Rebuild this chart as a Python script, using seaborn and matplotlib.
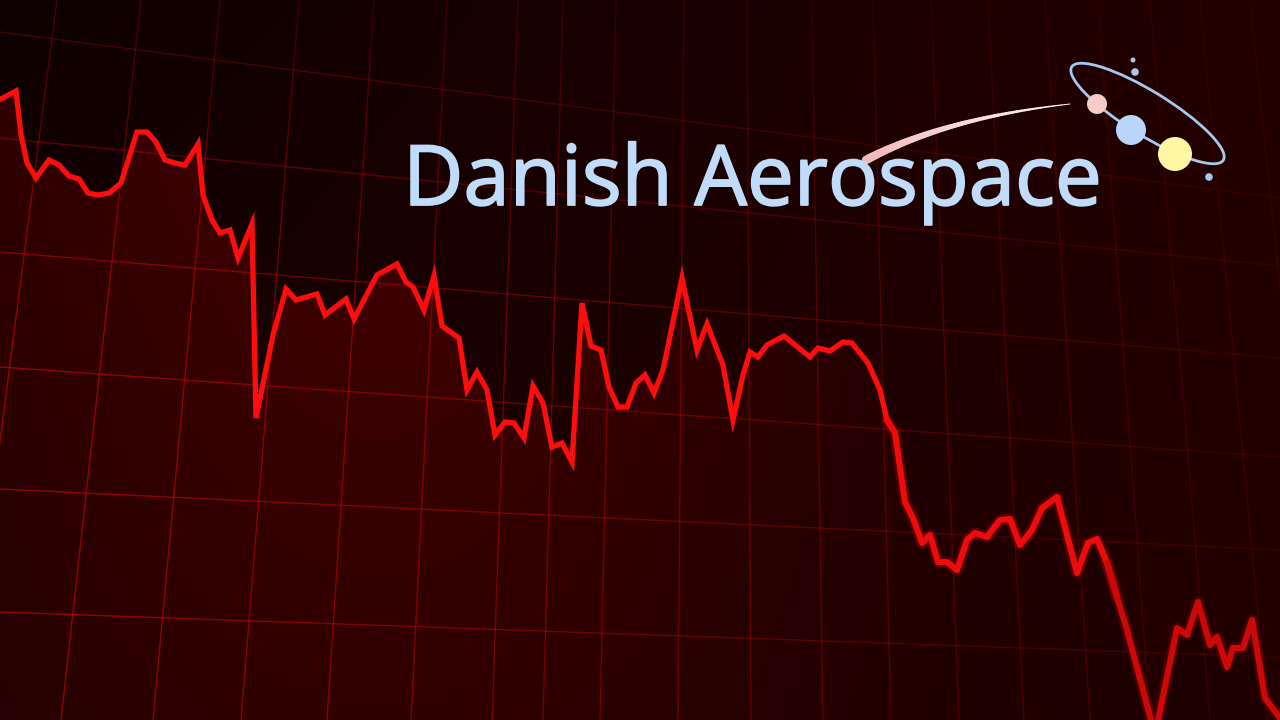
import numpy as np
import pandas as pd
import matplotlib
matplotlib.use("Agg")
import matplotlib.pyplot as plt
import matplotlib.patheffects as pe
import seaborn as sns
from matplotlib.collections import LineCollection
from matplotlib.patches import Ellipse, Circle

# ---------------- data ----------------
time_x = [-5, 16, 21, 27, 36, 49, 59, 69, 79, 88, 98, 109, 121, 137, 147, 156, 165, 175, 185, 198,
          203, 212, 220, 230, 238, 252, 256, 273, 286, 296, 317, 325, 346, 354, 377, 397, 406, 413,
          424, 434, 442, 459, 467, 477, 487, 495, 505, 514, 524, 533, 543, 552, 562, 572, 582, 591,
          601, 609, 618, 627, 636, 645, 654, 663, 682, 690, 697, 707, 716, 723, 733, 743, 750, 758,
          767, 784, 800, 810, 818, 830, 843, 852, 868, 880, 887, 895, 905, 913, 922, 930, 938, 947,
          957, 967, 975, 987, 1000, 1010, 1020, 1032, 1042, 1057, 1077, 1088, 1097, 1107, 1117,
          1127, 1155, 1177, 1187, 1198, 1210, 1217, 1227, 1233, 1243, 1252, 1265, 1285]
price = [618, 629, 585, 557, 542, 560, 555, 544, 541, 527, 525, 527, 537, 588, 588, 578, 560, 557,
         555, 576, 525, 500, 487, 490, 462, 496, 302, 385, 431, 420, 426, 405, 421, 401, 445, 456,
         438, 433, 410, 444, 394, 382, 330, 348, 330, 285, 298, 297, 282, 334, 317, 273, 277, 258,
         417, 374, 370, 333, 313, 313, 337, 345, 327, 350, 442, 403, 370, 396, 373, 355, 300, 345,
         368, 363, 375, 384, 371, 363, 372, 369, 378, 377, 357, 330, 300, 287, 218, 202, 177, 185,
         158, 158, 150, 180, 187, 183, 200, 201, 175, 190, 212, 223, 147, 177, 181, 157, 123, 90,
         -15, 92, 85, 118, 75, 83, 53, 72, 72, 100, 22, -5]
brand_name = "Danish Aerospace"

# ---------------- layout / decoration ----------------
W, H = 1280, 720
grid_top_x = [57, 141, 220, 299, 374, 447, 518, 563, 616, 684, 747, 812, 873, 931, 988, 1045, 1098, 1150, 1200, 1250]
grid_bot_x = [-36, 61, 153, 241, 327, 411, 492, 543, 600, 678, 751, 823, 891, 959, 1024, 1090, 1150, 1210, 1268, 1325]
grid_left_y = [32, 138, 252, 367, 489, 612]
grid_right_y = [198, 266, 358, 457, 550, 657]

sns.set_theme(style="dark")
plt.rcParams['font.family'] = ['Open Sans', 'DejaVu Sans']

fig = plt.figure(figsize=(12.8, 7.2), dpi=100)
ax = fig.add_axes([0, 0, 1, 1])
ax.set_xlim(0, W)
ax.set_ylim(0, H)
ax.set_axis_off()

# background gradient
nx, ny = 320, 180
xn, yn = np.meshgrid(np.linspace(0, 1, nx), np.linspace(0, 1, ny))  # yn: 0 top, 1 bottom
bg_r = 0.055 + 0.085 * xn + 0.05 * yn * (1 - xn)
bg = np.dstack([bg_r, np.zeros_like(bg_r), np.zeros_like(bg_r)]).clip(0, 1)
ax.imshow(bg, extent=[0, W, 0, H], origin="upper", aspect="auto", zorder=0, interpolation="bilinear")

# area under the line with glow gradient
px = xn * W
fill_r = 0.12 + 0.15 * np.exp(-((px - 380) / 430) ** 2) * (1 - 0.55 * yn)
fill_img = np.dstack([fill_r, np.zeros_like(fill_r), np.zeros_like(fill_r)]).clip(0, 1)
poly = ax.fill_between(time_x, price, -60, color="none", lw=0)
im = ax.imshow(fill_img, extent=[0, W, 0, H], origin="upper", aspect="auto", zorder=1,
               interpolation="bilinear")
im.set_clip_path(poly.get_paths()[0], transform=ax.transData)


def faded_line(p0, p1, n=40, base=0.6, lw=1.0):
    xs = np.linspace(p0[0], p1[0], n + 1)
    ys = np.linspace(p0[1], p1[1], n + 1)  # pixel y (top=0)
    segs, cols = [], []
    for i in range(n):
        mx = (xs[i] + xs[i + 1]) / 2
        my = (ys[i] + ys[i + 1]) / 2
        fx = np.clip(1 - 0.8 * (mx / W), 0.12, 1)
        fy = 0.4 + 0.6 * min(1.0, max(my, 0) / 320)
        segs.append([(xs[i], H - ys[i]), (xs[i + 1], H - ys[i + 1])])
        cols.append((0.88, 0.02, 0.02, base * fx * fy))
    ax.add_collection(LineCollection(segs, colors=cols, linewidths=lw, zorder=2, capstyle="butt"))


for xt, xb in zip(grid_top_x, grid_bot_x):
    faded_line((xt, 0), (xb, H))
for yl, yr in zip(grid_left_y, grid_right_y):
    faded_line((0, yl), (W, yr))

# ---------------- the price line ----------------
df = pd.DataFrame({"t": time_x, "price": price})
left = df[df["t"] <= 895]
mid = df[(df["t"] >= 887) & (df["t"] <= 1117)]
far = df[df["t"] >= 1107]

sns.lineplot(data=left, x="t", y="price", estimator=None, sort=False, color="#ff0d0d",
             lw=3.8, ax=ax, zorder=5, solid_joinstyle="miter")
for part, c_core, c_glow in [(mid, "#ee0b0b", "#e00808"), (far, "#cc0808", "#b80606")]:
    sns.lineplot(data=part, x="t", y="price", estimator=None, sort=False, color=c_glow,
                 lw=8, alpha=0.25, ax=ax, zorder=4)
    sns.lineplot(data=part, x="t", y="price", estimator=None, sort=False, color=c_core,
                 lw=4.4, ax=ax, zorder=5)

# ---------------- logo ----------------
# comet swoosh (quadratic curve tapering to the right)
p0, p1, p2 = np.array([866, 160.0]), np.array([945, 118.0]), np.array([1070, 104.0])
ts = np.linspace(0, 1, 60)
curve = ((1 - ts)[:, None] ** 2) * p0 + (2 * (1 - ts) * ts)[:, None] * p1 + (ts[:, None] ** 2) * p2
segs, cols, lws = [], [], []
c0 = np.array([0.94, 0.72, 0.72])
c1 = np.array([1.0, 0.97, 0.97])
for i in range(len(ts) - 1):
    t = ts[i]
    segs.append([(curve[i, 0], H - curve[i, 1]), (curve[i + 1, 0], H - curve[i + 1, 1])])
    cols.append(tuple(c0 + (c1 - c0) * t))
    lws.append((8.5 - 7.7 * t) * 0.72)
ax.add_collection(LineCollection(segs, colors=cols, linewidths=lws, zorder=6, capstyle="round"))

ax.text(403, H - 205, brand_name, fontsize=60, color="#c1dbfa",
        ha="left", va="baseline", zorder=7, family=["Open Sans", "DejaVu Sans"],
        path_effects=[pe.withStroke(linewidth=1.3, foreground="#c1dbfa")])

orbit = Ellipse((1147.5, H - 113.5), width=178, height=44, angle=-31.6, fill=False,
                edgecolor="#a9c7ee", lw=2.0, zorder=7)
ax.add_patch(orbit)
for (cx, cy, r, col) in [(1097, 104, 10, "#f7cbc6"), (1131, 130, 15, "#b9d5f8"), (1175, 154, 17, "#fff7a3"),
                         (1133, 60, 2.5, "#a9c7ee"), (1135, 72, 3.8, "#a9c7ee"), (1209, 177, 3.8, "#a9c7ee")]:
    ax.add_patch(Circle((cx, H - cy), r, color=col, zorder=8, lw=0))

fig.savefig("out.png", dpi=100, facecolor="#120000")
